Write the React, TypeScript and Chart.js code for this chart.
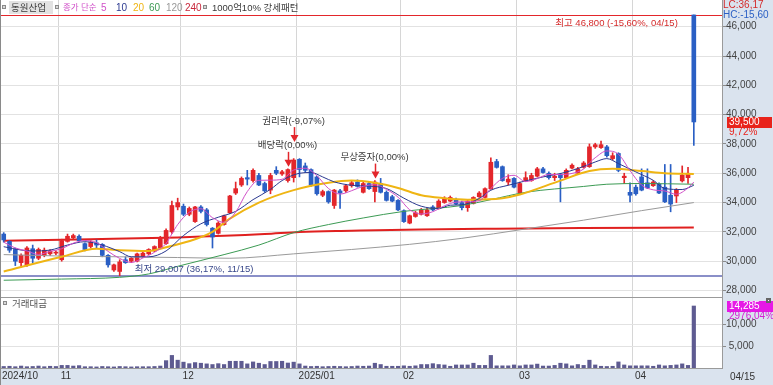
import React, { useEffect, useRef } from 'react';
import { Chart, registerables } from 'chart.js';

Chart.register(...registerables);

// ---------------- data ----------------
const stockName = '동원산업';
const monthLabels = ['2024/10', '11', '12', '2025/01', '02', '03', '04'];
const monthStarts = [0, 10, 31, 51, 69, 89, 109];
const lastDateLabel = '04/15';

const opens = [31850,31350,30800,29900,29750,30850,30200,30400,30500,30550,
30100,31350,31600,31700,31200,31000,31250,31150,30400,29400,
29300,30100,30000,30000,30300,30500,30700,30900,31200,32000,
33700,33750,33200,32700,33700,33500,32250,31900,32500,33300,
34650,35200,35700,35500,35850,35300,34850,36200,35950,35500,
35700,36950,36500,36250,35750,34500,34750,33800,34800,34800,
35150,35400,34700,35300,34750,35300,34700,34400,34150,33450,
32600,33050,33200,33100,33700,33600,34000,34100,34200,34000,
33650,33950,34400,34350,34950,36800,36450,35400,35650,34650,
35500,35500,35800,36300,36000,35700,35900,35700,36350,36000,
36400,36450,37800,37750,37800,37000,37350,35700,34700,35050,
35750,35350,35150,35250,35050,34500,34450,35480,35700,46800];

const highs = [31950,31400,30900,30500,31000,31100,30900,30900,30800,30700,
31500,31850,31850,31800,31250,31400,31450,31200,30450,29800,
30100,30300,30250,30550,30600,30850,31050,31700,32200,34100,
34300,33900,33700,33750,33800,33600,32300,32700,33150,34500,
35400,35750,36200,36300,36000,35400,36000,36450,36200,36300,
37000,37000,36700,36300,35800,34850,34800,34900,34900,35250,
35500,35550,35400,35400,35500,35650,34800,34500,34200,33500,
33150,33400,33600,33600,33800,34200,34400,34450,34300,34100,
34150,34400,34750,35000,37050,36950,36500,35900,35700,35400,
36100,36000,36400,36400,36100,36000,36000,36300,36650,36400,
36800,38000,38050,38200,37900,37400,37400,36000,35350,35200,
36300,36300,35500,35350,36600,36600,34950,36500,36400,46800];

const lows = [31300,30600,29700,29600,29650,29900,30100,30300,30400,30450,
30000,31300,31500,31350,30700,30900,30900,30300,29600,29300,
29007,29850,29900,29950,30250,30450,30650,30850,31150,31900,
33500,33100,33100,32650,33300,32400,30900,31850,32450,33250,
34550,35100,35200,35400,35150,34700,34600,35900,35850,35400,
35400,35750,36050,35100,34500,34400,33950,33600,33600,34700,
35050,35050,34650,34900,34050,34650,34100,34050,33450,32650,
32550,33000,33150,33050,33450,33550,33950,34050,33850,33500,
33400,33900,34350,34300,34900,36350,35450,35200,35000,34600,
35450,35450,35750,36000,35600,35500,34050,35650,36300,35950,
36350,36400,37700,37700,37100,36900,36100,35300,34050,34500,
34800,34950,35100,34600,34000,33370,34000,35400,35300,37900];

const closes = [31450,30750,30000,30400,30900,30200,30800,30750,30700,30600,
31400,31700,31750,31400,30800,31300,31100,30400,29750,29750,
29950,29900,30200,30500,30550,30800,31000,31600,32100,33800,
34000,33200,33600,33700,33400,32500,31650,32600,33100,34450,
34950,35650,35600,36200,35200,34800,35850,36000,36100,36250,
36900,36250,36200,35200,34600,34750,34050,34850,34650,35150,
35350,35100,35300,34950,35400,34700,34150,34100,33500,32700,
33100,33300,33500,33500,33500,34100,34300,34350,33900,33650,
34100,34350,34650,34950,36750,36400,35500,35600,35050,35300,
35700,35850,36300,36050,35700,35800,35700,36200,36550,36300,
36700,37800,37950,37950,37200,37200,36200,35800,34500,34600,
34850,35000,35400,34650,34050,33900,34850,35870,36000,39500];

const volumes = [350,400,300,450,300,350,450,300,400,350,
600,600,450,550,300,300,250,350,300,250,
350,300,250,300,300,300,350,450,1700,2900,
1800,1350,1000,1250,1100,950,800,1000,800,1550,
1550,1550,950,1400,1100,800,1500,1500,1550,1150,
1350,950,450,350,400,300,350,400,350,300,
350,450,400,450,1100,800,400,400,400,500,
400,500,800,800,1000,800,700,400,700,700,
700,1100,600,600,2900,500,500,500,700,500,
700,700,900,450,450,600,1100,950,500,800,
600,1800,700,400,350,400,1400,700,500,500,
500,500,400,700,500,600,700,950,600,14285];

// moving averages: [day index, value]
const ma5 = [[0,31300],[2,30900],[4,30700],[6,30460],[8,30670],[10,30850],[12,31230],[14,31410],[16,31270],[18,30670],[20,30190],[22,29910],[24,30220],[26,30610],[28,31210],[29,31860],[30,32500],[32,33340],[34,33580],[36,32970],[38,32650],[40,33350],[42,34750],[44,35520],[46,35530],[48,35590],[50,36220],[52,36340],[54,35830],[56,34960],[58,34580],[60,34810],[62,35110],[64,35220],[66,34900],[68,34370],[70,33510],[72,33220],[74,33380],[76,33780],[78,34030],[80,34060],[82,34130],[84,34960],[86,35650],[88,35860],[90,35430],[92,35640],[94,35920],[96,35910],[98,35990],[100,36290],[101,36710],[102,37060],[104,37520],[106,37300],[108,36180],[110,35190],[112,34870],[114,34790],[116,34570],[118,35000],[119,35400]];
const ma10 = [[0,30990],[3,30760],[5,30700],[8,30760],[11,31100],[14,31330],[17,31100],[20,30650],[22,30300],[25,30300],[28,30700],[31,31750],[34,32550],[37,33000],[40,33400],[43,34200],[46,34900],[48,35500],[51,36000],[53,36050],[55,35750],[57,35410],[60,35180],[63,35120],[66,34960],[69,34300],[72,33750],[75,33600],[77,33820],[79,33850],[82,34280],[84,34840],[87,35180],[90,35480],[93,35750],[96,35980],[99,36320],[102,36770],[104,37000],[106,36660],[109,36090],[112,35520],[114,34960],[117,34890],[119,35180]];
const ma20 = [[0,29300],[10,30300],[16,30850],[20,30750],[25,30700],[28,30950],[33,31500],[36,32000],[39,32900],[44,34000],[50,34850],[56,35350],[60,35500],[64,35350],[68,35000],[72,34500],[76,34300],[80,34200],[86,34300],[89,34550],[96,35500],[101,36150],[105,36300],[110,36150],[114,36000],[119,35950]];
const ma60 = [[0,28700],[10,28780],[20,28900],[25,29130],[30,29650],[38,30450],[44,31100],[50,31950],[56,32500],[62,32950],[69,33400],[79,33800],[84,34200],[90,34700],[100,35100],[104,35250],[110,35300],[119,35250]];
const ma120 = [[0,30450],[10,30350],[20,30300],[30,30250],[39,30200],[50,30500],[60,30800],[70,31150],[79,31560],[90,32200],[100,32800],[110,33450],[119,34000]];
const ma240 = [[0,31400],[15,31500],[30,31620],[45,31850],[51,32000],[60,32080],[72,32170],[85,32220],[100,32260],[119,32300]];

const priceTicks = [28000, 30000, 32000, 34000, 36000, 38000, 40000, 42000, 44000, 46000];
const volumeTicks = [5000, 10000];

const highValue = 46800;
const highText = '최고 46,800 (-15,60%, 04/15)';
const lowValue = 29007;
const lowText = '최저 29,007 (36,17%, 11/15)';
const lcText = 'LC:36,17';
const hcText = 'HC:-15,60';
const lastPctText = '9,72%';
const lastVolPctText = '2976,04%';
const volumeTitle = '거래대금';
const legendText = '1000억10% 강세패턴';
const maLegend = ['5', '10', '20', '60', '120', '240'];

const events = [
  { idx: 49, label: '배당락(0,00%)', level: 0 },
  { idx: 50, label: '권리락(-9,07%)', level: 1 },
  { idx: 64, label: '무상증자(0,00%)', level: 0 },
];

// ---------------- styles ----------------
const FONT = '"Liberation Sans", "Noto Sans CJK KR", sans-serif';
const RED = '#e3262b';
const BLUE = '#2a5fc4';
const VOL = '#5e5b91';
const PANEL_BG = '#dae3ee';
const GRID = '#e2e2e2';
const VGRID = '#d6d6d6';
const BORDER = '#9a9a9a';
const MA_COLORS = ['#d050c8', '#2b3990', '#efb513', '#3c9b54', '#9a9a9a', '#e0201f'];
const LEGEND_X = [101, 116, 133, 149, 166, 185];

const fmt = (v: number) => String(Math.round(v)).replace(/\B(?=(\d{3})+(?!\d))/g, ',');

function drawIcon(ctx: CanvasRenderingContext2D, x: number, y: number) {
  ctx.fillStyle = '#d8d8d8';
  ctx.fillRect(x, y, 4, 4);
  ctx.strokeStyle = '#8a8a8a';
  ctx.lineWidth = 1;
  ctx.strokeRect(x + 0.5, y + 0.5, 3, 3);
}

const overlayPlugin = {
  id: 'overlay',
  beforeDraw(chart: any) {
    const { ctx, chartArea: ca, width, height } = chart;
    ctx.save();
    ctx.fillStyle = '#ffffff';
    ctx.fillRect(0, 0, width, height);
    ctx.fillStyle = PANEL_BG;
    ctx.fillRect(ca.right, 0, width - ca.right, height);
    ctx.fillRect(0, ca.bottom, ca.right, height - ca.bottom);
    ctx.restore();
  },
  beforeDatasetsDraw(chart: any) {
    const { ctx, chartArea: ca, scales } = chart;
    const ys = scales.y;
    ctx.save();
    const yh = Math.round(ys.getPixelForValue(highValue)) + 0.5;
    ctx.strokeStyle = RED;
    ctx.lineWidth = 1;
    ctx.beginPath();
    ctx.moveTo(ca.left, yh);
    ctx.lineTo(ca.right, yh);
    ctx.stroke();
    const yl = Math.round(ys.getPixelForValue(lowValue));
    ctx.strokeStyle = '#8a8fc8';
    ctx.lineWidth = 2;
    ctx.beginPath();
    ctx.moveTo(ca.left, yl);
    ctx.lineTo(ca.right, yl);
    ctx.stroke();
    const sep = Math.round(scales.yv.top) + 0.5;
    ctx.strokeStyle = BORDER;
    ctx.lineWidth = 1;
    ctx.beginPath();
    ctx.moveTo(ca.left, sep);
    ctx.lineTo(ca.right, sep);
    ctx.stroke();
    ctx.restore();
  },
  afterDatasetsDraw(chart: any) {
    const { ctx, scales } = chart;
    const xs = scales.x;
    const ys = scales.y;
    ctx.save();
    ctx.textBaseline = 'middle';

    ctx.font = `9.5px ${FONT}`;
    ctx.fillStyle = '#d42a2a';
    ctx.textAlign = 'right';
    const yh = ys.getPixelForValue(highValue);
    ctx.fillText(highText, xs.getPixelForValue(closes.length - 1) - 16, yh + 8);
    const lowIdx = lows.indexOf(Math.min(...lows));
    ctx.fillStyle = '#3b4a8c';
    ctx.textAlign = 'left';
    ctx.fillText(lowText, xs.getPixelForValue(lowIdx) + 15, ys.getPixelForValue(lowValue) - 6);

    const gaps = [2, 16.5];
    for (const ev of events) {
      const x = Math.round(xs.getPixelForValue(ev.idx)) + 0.5;
      const tip = ys.getPixelForValue(highs[ev.idx]) - gaps[ev.level];
      ctx.strokeStyle = RED;
      ctx.fillStyle = RED;
      ctx.lineWidth = 1.5;
      ctx.beginPath();
      ctx.moveTo(x, tip - 15);
      ctx.lineTo(x, tip - 6);
      ctx.stroke();
      ctx.beginPath();
      ctx.moveTo(x - 4, tip - 7);
      ctx.lineTo(x + 4, tip - 7);
      ctx.lineTo(x, tip);
      ctx.closePath();
      ctx.fill();
      ctx.fillStyle = '#3a3a3a';
      ctx.textAlign = 'center';
      ctx.font = `9.5px ${FONT}`;
      ctx.fillText(ev.label, x - 1, tip - 21);
    }

    ctx.textAlign = 'left';
    drawIcon(ctx, 2, 5);
    ctx.fillStyle = '#e2e2e2';
    ctx.fillRect(9, 1, 44, 13);
    ctx.font = `9.5px ${FONT}`;
    ctx.fillStyle = '#3a3a3a';
    ctx.fillText(stockName, 11, 8);
    drawIcon(ctx, 55, 5);
    ctx.font = `8.5px ${FONT}`;
    ctx.fillStyle = MA_COLORS[0];
    ctx.fillText('종가 단순', 63, 8);
    ctx.font = `10px ${FONT}`;
    maLegend.forEach((t, i) => {
      ctx.fillStyle = i === 5 ? '#c8283c' : MA_COLORS[i];
      ctx.fillText(t, LEGEND_X[i], 8);
    });
    drawIcon(ctx, 203, 5);
    ctx.font = `9.5px ${FONT}`;
    ctx.fillStyle = '#3a3a3a';
    ctx.fillText(legendText, 212, 8);

    const vTop = scales.yv.top;
    drawIcon(ctx, 3, vTop + 4);
    ctx.fillStyle = '#555';
    ctx.fillText(volumeTitle, 12, vTop + 7);

    ctx.strokeStyle = '#8a8a8a';
    ctx.lineWidth = 1;
    ctx.beginPath();
    ctx.moveTo(0.5, 0);
    ctx.lineTo(0.5, chart.height);
    ctx.stroke();
    ctx.restore();
  },
  afterDraw(chart: any) {
    const { ctx, chartArea: ca, scales, width, height } = chart;
    const ys = scales.y;
    const yv = scales.yv;
    ctx.save();
    ctx.textBaseline = 'middle';
    ctx.textAlign = 'left';
    ctx.font = `10px ${FONT}`;
    const px = ca.right + 1;
    ctx.fillStyle = '#d42a2a';
    ctx.fillText(lcText, px, 5);
    ctx.fillStyle = BLUE;
    ctx.fillText(hcText, px, 15);

    const last = closes[closes.length - 1];
    const yl = ys.getPixelForValue(last);
    ctx.fillStyle = '#e8231b';
    ctx.fillRect(px + 4, Math.round(yl) - 5, 45, 11);
    ctx.fillStyle = '#ffffff';
    ctx.fillText(fmt(last), px + 6, yl + 0.5);
    ctx.fillStyle = '#e8231b';
    ctx.fillText(lastPctText, px + 6, yl + 10);

    const lv = volumes[volumes.length - 1];
    const yvv = yv.getPixelForValue(lv);
    ctx.fillStyle = '#e619e6';
    ctx.fillRect(px + 4, Math.round(yvv) - 5, 46, 11);
    ctx.fillStyle = '#ffffff';
    ctx.fillText(fmt(lv), px + 6, yvv + 0.5);
    ctx.fillStyle = '#d420d4';
    ctx.fillText(lastVolPctText, px + 6, yvv + 10);
    ctx.fillStyle = '#666';
    ctx.fillRect(width - 7, yv.top + 1, 5, 5);
    ctx.fillStyle = '#fff';
    ctx.fillRect(width - 5, yv.top + 3, 1, 1);

    ctx.fillStyle = '#333';
    ctx.fillText(lastDateLabel, ca.right + 8, (ca.bottom + height) / 2 + 1);
    ctx.restore();
  },
};

export default function App() {
  const ref = useRef<HTMLCanvasElement | null>(null);

  useEffect(() => {
    document.body.style.margin = '0';
    const canvas = ref.current;
    if (!canvas) return;
    const idx = closes.map((_, i) => i);
    const candleColors = idx.map((i) => (closes[i] >= opens[i] ? RED : BLUE));
    const maSets = [ma5, ma10, ma20, ma60, ma120, ma240];
    const maWidths = [1, 1, 2, 1, 1, 2];
    const xMin = -0.64;
    const xMax = 123.86;
    const xTicks = [xMin, ...monthStarts.slice(1).map((m) => m - 0.5)];

    const lineSets = maSets.map((pts, k) => ({
      type: 'line' as const,
      label: 'MA' + maLegend[k],
      data: pts.map(([x, y]) => ({ x, y })),
      borderColor: MA_COLORS[k],
      borderWidth: maWidths[k],
      pointRadius: 0,
      cubicInterpolationMode: 'monotone' as const,
      yAxisID: 'y',
      order: k === 5 ? 4 : 1,
    }));

    const tickFont = { family: FONT, size: 10 };
    const noVPad = (s: any) => {
      s.width = 51;
      s.paddingTop = 0;
      s.paddingBottom = 0;
    };

    const chart = new Chart(canvas, {
      type: 'bar',
      data: {
        datasets: [
          ...lineSets,
          {
            type: 'bar',
            label: 'body',
            data: idx.map((i) => ({ x: i, y: [opens[i], closes[i]] })),
            backgroundColor: candleColors,
            barThickness: 4,
            grouped: false,
            minBarLength: 1,
            borderWidth: 0,
            yAxisID: 'y',
            order: 2,
          },
          {
            type: 'bar',
            label: 'wick',
            data: idx.map((i) => ({ x: i, y: [lows[i], highs[i]] })),
            backgroundColor: candleColors,
            barThickness: 1,
            grouped: false,
            borderWidth: 0,
            yAxisID: 'y',
            order: 3,
          },
          {
            type: 'bar',
            label: 'volume',
            data: idx.map((i) => ({ x: i, y: volumes[i] })),
            backgroundColor: VOL,
            barThickness: 3.5,
            grouped: false,
            borderWidth: 0,
            yAxisID: 'yv',
            order: 5,
          },
        ] as any,
      },
      options: {
        responsive: false,
        animation: false,
        devicePixelRatio: 1,
        events: [],
        layout: { padding: 0 },
        plugins: { legend: { display: false }, tooltip: { enabled: false } },
        scales: {
          x: {
            type: 'linear',
            offset: false,
            min: xMin,
            max: xMax,
            afterBuildTicks: (s: any) => {
              s.ticks = xTicks.map((v) => ({ value: v }));
            },
            afterFit: (s: any) => {
              s.height = 17;
              s.paddingLeft = 0;
              s.paddingRight = 0;
            },
            ticks: {
              autoSkip: false,
              maxRotation: 0,
              minRotation: 0,
              align: 'start',
              labelOffset: 2,
              padding: 2,
              font: tickFont,
              color: '#333',
              callback: (_v: any, i: number) => monthLabels[i],
            },
            grid: { color: VGRID, drawTicks: false, offset: false },
            border: { color: BORDER },
          },
          y: {
            type: 'linear',
            position: 'right',
            stack: 'main',
            stackWeight: 297,
            min: 27557,
            max: 47821,
            afterBuildTicks: (s: any) => {
              s.ticks = priceTicks.map((v) => ({ value: v }));
            },
            afterFit: noVPad,
            ticks: {
              crossAlign: 'center',
              padding: 0,
              font: tickFont,
              color: '#444',
              callback: (v: any) => fmt(Number(v)),
            },
            grid: { color: GRID, tickLength: 4, tickColor: '#8a8a8a' },
            border: { color: BORDER },
          },
          yv: {
            type: 'linear',
            position: 'right',
            stack: 'main',
            stackWeight: 71,
            min: 0,
            max: 16360,
            afterBuildTicks: (s: any) => {
              s.ticks = volumeTicks.map((v) => ({ value: v }));
            },
            afterFit: noVPad,
            ticks: {
              crossAlign: 'center',
              padding: 0,
              font: tickFont,
              color: '#444',
              callback: (v: any) => fmt(Number(v)),
            },
            grid: { color: GRID, tickLength: 4, tickColor: '#8a8a8a' },
            border: { color: BORDER },
          },
        },
      } as any,
      plugins: [overlayPlugin],
    });
    return () => chart.destroy();
  }, []);

  return (
    <div style={{ width: 773, height: 385, position: 'relative', overflow: 'hidden' }}>
      <canvas ref={ref} width={773} height={385} style={{ display: 'block', width: 773, height: 385 }} />
    </div>
  );
}
